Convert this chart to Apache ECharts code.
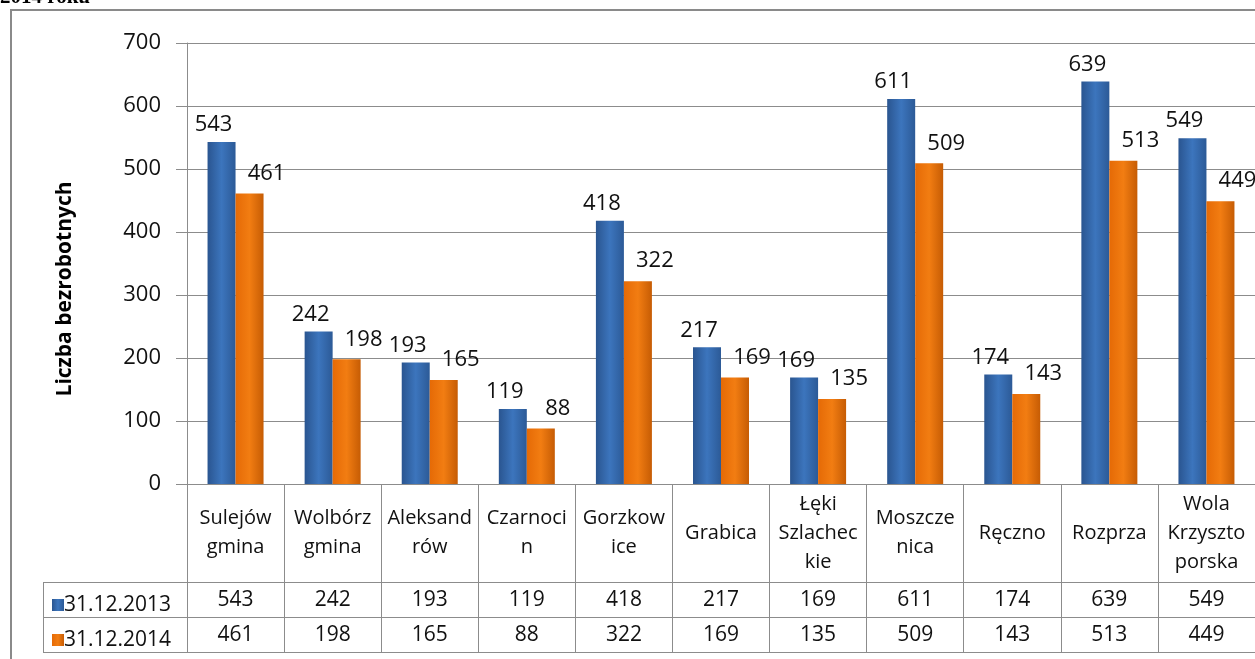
<!DOCTYPE html>
<html>
<head>
<meta charset="utf-8">
<script src="https://cdn.jsdelivr.net/npm/echarts@6/dist/echarts.min.js"></script>
<style>
  html, body { margin: 0; padding: 0; background: #fff; }
  #chart { width: 1255px; height: 659px; }
</style>
</head>
<body>
<div id="chart"></div>
<script>
// dane z wykresu
var categories = ['Sulejów\ngmina', 'Wolbórz\ngmina', 'Aleksand\nrów', 'Czarnoci\nn', 'Gorzkow\nice', 'Grabica',
                  'Łęki\nSzlachec\nkie', 'Moszcze\nnica', 'Ręczno', 'Rozprza', 'Wola\nKrzyszto\nporska'];
var s2013 = [543, 242, 193, 119, 418, 217, 169, 611, 174, 639, 549];
var s2014 = [461, 198, 165, 88, 322, 169, 135, 509, 143, 513, 449];
var seriesNames = ['31.12.2013', '31.12.2014'];
var yTicks = [0, 100, 200, 300, 400, 500, 600, 700];

var FONT = '"Open Sans", sans-serif';
var GRID = '#8c8c8c';

var chart = echarts.init(document.getElementById('chart'));

function grad(c1, c2, c3) {
    return new echarts.graphic.LinearGradient(0, 0, 1, 0, [
        {offset: 0, color: c1},
        {offset: 0.5, color: c2},
        {offset: 1, color: c3}
    ]);
}

// wiersze tabeli danych jako dodatkowe osie X
function tableAxis(values, margin) {
    return {
        type: 'category',
        data: categories,
        position: 'bottom',
        axisLine: {show: false},
        axisTick: {show: false},
        axisLabel: {
            interval: 0,
            margin: margin,
            verticalAlign: 'middle',
            fontFamily: FONT,
            fontSize: 21,
            color: '#111',
            formatter: function (v, i) { return String(values[i]); }
        }
    };
}

var option = {
    animation: false,
    textStyle: {fontFamily: FONT},
    grid: {left: 187, top: 43, bottom: 175, width: 1077},
    legend: {
        orient: 'vertical',
        left: 47,
        top: 589,
        itemWidth: 12,
        itemHeight: 12,
        itemGap: 13,
        icon: 'rect',
        textStyle: {fontFamily: FONT, fontSize: 21, color: '#111', lineHeight: 22, padding: [0, 0, 0, -5]},
        data: seriesNames
    },
    xAxis: [
        {
            type: 'category',
            data: categories,
            position: 'bottom',
            axisLine: {show: true, lineStyle: {color: GRID, width: 1}},
            axisTick: {show: true, interval: 0, length: 168, lineStyle: {color: GRID}},
            axisLabel: {
                interval: 0,
                margin: 49,
                verticalAlign: 'middle',
                fontFamily: FONT,
                fontSize: 20,
                lineHeight: 29,
                color: '#111'
            }
        },
        tableAxis(s2013, 116),
        tableAxis(s2014, 151)
    ],
    yAxis: {
        type: 'value',
        min: 0,
        max: 700,
        interval: 100,
        axisLine: {show: true, lineStyle: {color: GRID}},
        axisTick: {show: true, length: 11, lineStyle: {color: GRID}},
        axisLabel: {
            margin: 26,
            fontFamily: FONT,
            fontSize: 22,
            color: '#111',
            formatter: function (v) { return yTicks.indexOf(v) >= 0 ? String(v) : ''; }
        },
        splitLine: {lineStyle: {color: GRID}}
    },
    series: [
        {
            name: seriesNames[0],
            type: 'bar',
            data: s2013,
            barWidth: 28,
            barGap: '0%',
            itemStyle: {color: grad('#2a5590', '#3c75bd', '#2c5a97')},
            label: {
                show: true,
                position: 'top',
                distance: 4,
                offset: [-8, -2],
                fontFamily: FONT,
                fontSize: 22,
                color: '#111'
            }
        },
        {
            name: seriesNames[1],
            type: 'bar',
            data: s2014,
            barWidth: 28,
            itemStyle: {color: grad('#e56a06', '#f27d12', '#c65c04')},
            label: {
                show: true,
                position: 'top',
                distance: 4,
                offset: [17, -5],
                fontFamily: FONT,
                fontSize: 22,
                color: '#111'
            }
        }
    ],
    graphic: [
        // obramowanie obszaru wykresu
        {type: 'rect', shape: {x: 11, y: 10, width: 1300, height: 700}, style: {fill: 'none', stroke: '#8a8a8a', lineWidth: 2}, silent: true},
        // tytuł (ucięty)
        {type: 'text', left: 0, top: -13, style: {text: '2014 roku', font: 'bold 21px "Liberation Serif", serif', fill: '#000'}},
        // tytuł osi Y
        {type: 'text', x: 65, y: 289, rotation: Math.PI / 2,
         style: {text: 'Liczba bezrobotnych', font: 'bold 21px "Open Sans", sans-serif', fill: '#000', align: 'center', verticalAlign: 'middle'}},
        // linie tabeli danych
        {type: 'line', shape: {x1: 43, y1: 582.5, x2: 1255, y2: 582.5}, style: {stroke: GRID, lineWidth: 1}},
        {type: 'line', shape: {x1: 43, y1: 617.5, x2: 1255, y2: 617.5}, style: {stroke: GRID, lineWidth: 1}},
        {type: 'line', shape: {x1: 43, y1: 652.5, x2: 1255, y2: 652.5}, style: {stroke: GRID, lineWidth: 1}},
        {type: 'line', shape: {x1: 43.5, y1: 582, x2: 43.5, y2: 653}, style: {stroke: GRID, lineWidth: 1}}
    ]
};

chart.setOption(option);
</script>
</body>
</html>
